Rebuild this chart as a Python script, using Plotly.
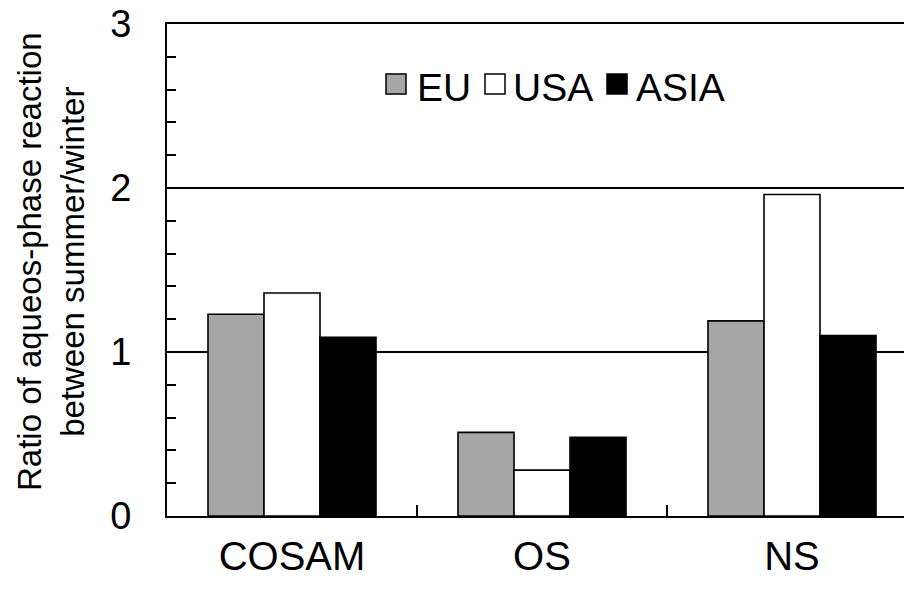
import plotly.graph_objects as go

# Summer/winter ratio of aqueous-phase reaction, by region and species
categories = ["COSAM", "OS", "NS"]
regions = ["EU", "USA", "ASIA"]
eu_values = [1.23, 0.51, 1.19]
usa_values = [1.36, 0.28, 1.96]
asia_values = [1.09, 0.48, 1.10]
region_colors = ["#a6a6a6", "#ffffff", "#000000"]
y_tick_values = [0, 1, 2, 3]
y_title = "Ratio of aqueos-phase reaction<br>between summer/winter"

FONT = "Liberation Sans, Arial, sans-serif"
W, H = 904, 594
M_L, M_T, M_B = 167, 24, 78
PLOT_W = W - M_L

fig = go.Figure()
for name, vals, col in zip(regions, [eu_values, usa_values, asia_values], region_colors):
    fig.add_trace(go.Bar(
        x=categories, y=vals, name=name,
        marker=dict(color=col, line=dict(color="black", width=1.6)),
        showlegend=False,
    ))

# hand-built legend row: swatch + label per region
def px_to_paper_x(px):
    return (px - M_L) / PLOT_W

def py_to_paper_y(py):
    return (H - M_B - py) / (H - M_T - M_B)

legend_swatch_x = [386, 485, 607]
legend_text_x = [415, 511, 634]
sw = 20
cy = 84
for name, col, sx, tx in zip(regions, region_colors, legend_swatch_x, legend_text_x):
    fig.add_shape(type="rect", xref="paper", yref="paper",
                  x0=px_to_paper_x(sx), x1=px_to_paper_x(sx + sw),
                  y0=py_to_paper_y(cy + sw / 2), y1=py_to_paper_y(cy - sw / 2),
                  fillcolor=col, line=dict(color="black", width=1.5))
    fig.add_annotation(text=name, xref="paper", yref="paper",
                       x=px_to_paper_x(tx), y=py_to_paper_y(cy + 3),
                       xanchor="left", yanchor="middle", showarrow=False,
                       font=dict(family=FONT, size=39, color="black"))

fig.add_annotation(text=y_title, xref="paper", yref="paper",
                   x=px_to_paper_x(51), y=0.5, yshift=8,
                   xanchor="center", yanchor="middle", textangle=-90,
                   showarrow=False,
                   font=dict(family=FONT, size=33, color="black"))

fig.update_layout(
    width=W, height=H,
    margin=dict(l=M_L, r=0, t=M_T, b=M_B),
    paper_bgcolor="white", plot_bgcolor="white",
    barmode="group", bargap=0.328, bargroupgap=0,
    font=dict(family=FONT, color="black"),
    showlegend=False,
)
fig.update_xaxes(
    type="category", categoryorder="array", categoryarray=categories,
    range=[-0.5, -0.5 + PLOT_W / 250],
    showline=True, linecolor="black", linewidth=2, mirror=True,
    ticks="inside", tickson="boundaries", ticklen=11, tickwidth=1.5, tickcolor="black",
    tickfont=dict(family=FONT, size=40, color="black"),
    ticklabelstandoff=4,
    showgrid=False, zeroline=False,
)
fig.update_yaxes(
    range=[0, 3], tickvals=y_tick_values,
    showline=True, linecolor="black", linewidth=2,
    showgrid=True, gridcolor="black", gridwidth=1.5,
    ticks="inside", ticklen=9, tickwidth=1.5, tickcolor="black",
    minor=dict(dtick=0.2, ticks="inside", ticklen=9, tickwidth=1.5,
               tickcolor="black", showgrid=False),
    tickfont=dict(family=FONT, size=38, color="black"),
    ticklabelstandoff=26,
    zeroline=False,
)

fig.write_html("out.html")
